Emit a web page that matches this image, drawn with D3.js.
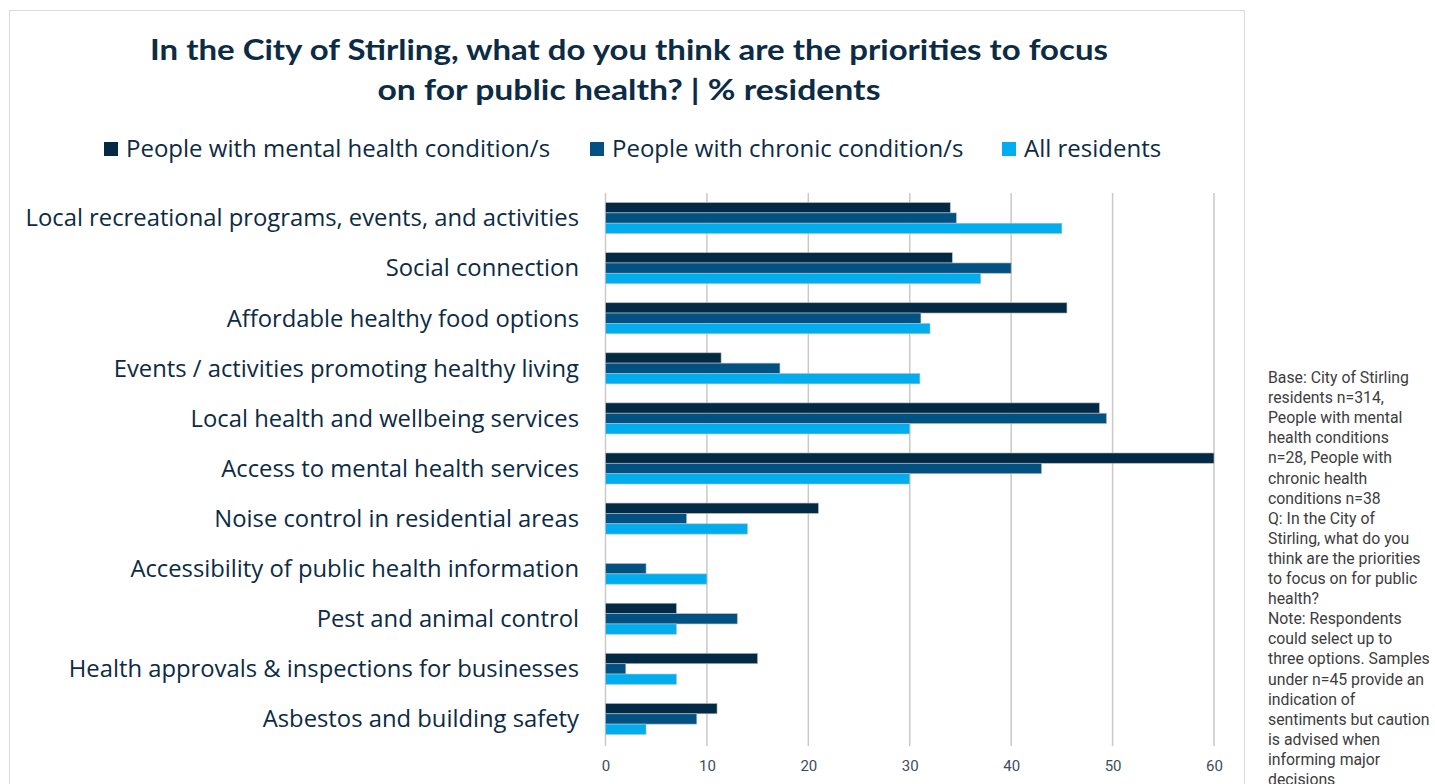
<!DOCTYPE html>
<html><head><meta charset="utf-8">
<script src="https://cdn.jsdelivr.net/npm/d3@7"></script>
<style>
html,body{margin:0;padding:0;background:#fff;overflow:hidden}
svg{display:block}
</style></head>
<body><svg id="c" width="1435" height="784"></svg>
<script>
const categories = [
  "Local recreational programs, events, and activities",
  "Social connection",
  "Affordable healthy food options",
  "Events / activities promoting healthy living",
  "Local health and wellbeing services",
  "Access to mental health services",
  "Noise control in residential areas",
  "Accessibility of public health information",
  "Pest and animal control",
  "Health approvals & inspections for businesses",
  "Asbestos and building safety"
];
const seriesNames = ["People with mental health condition/s", "People with chronic condition/s", "All residents"];
const seriesColors = ["#022a44", "#015283", "#00adef"];
const mentalHealth = [34, 34.2, 45.5, 11.4, 48.7, 60, 21, 0, 7, 15, 11];
const chronic      = [34.6, 40, 31.1, 17.2, 49.4, 43, 8, 4, 13, 2, 9];
const allResidents = [45, 37, 32, 31, 30, 30, 14, 10, 7, 7, 4];
const xTicks = [0, 10, 20, 30, 40, 50, 60];
const titleLines = ["In the City of Stirling, what do you think are the priorities to focus", "on for public health? | % residents"];
const noteLines = ["Base: City of Stirling", "residents n=314,", "People with mental", "health conditions", "n=28, People with", "chronic health", "conditions n=38", "Q: In the City of", "Stirling, what do you", "think are the priorities", "to focus on for public", "health?", "Note: Respondents", "could select up to", "three options. Samples", "under n=45 provide an", "indication of", "sentiments but caution", "is advised when", "informing major", "decisions"];

const svg = d3.select("#c");
const seriesData = [mentalHealth, chronic, allResidents];

// chart box
svg.append("rect").attr("x", 9.5).attr("y", 10.5).attr("width", 1235).attr("height", 800)
  .attr("fill", "#fff").attr("stroke", "#d9d9d9").attr("stroke-width", 1);

// title
const titleWidths = [958, 503];
svg.append("g").selectAll("text").data(titleLines).join("text")
  .attr("x", 629).attr("y", (d, i) => 60 + i * 40)
  .attr("text-anchor", "middle")
  .attr("font-family", "Lato, 'Open Sans', sans-serif").attr("font-weight", 700)
  .attr("font-size", 29).attr("fill", "#0c2b45")
  .attr("textLength", (d, i) => titleWidths[i]).attr("lengthAdjust", "spacingAndGlyphs")
  .text(d => d);

// legend
const legendX = [104, 590, 1002];
const lg = svg.append("g").selectAll("g").data(seriesNames).join("g")
  .attr("transform", (d, i) => `translate(${legendX[i]},142)`);
lg.append("rect").attr("width", 14).attr("height", 14).attr("fill", (d, i) => seriesColors[i]);
lg.append("text").attr("x", 22).attr("y", 15)
  .attr("font-family", "'Open Sans', sans-serif").attr("font-size", 24).attr("fill", "#0c2b45")
  .text(d => d);

// scales
const x = d3.scaleLinear().domain([0, 60]).range([605.5, 1214]);
const y0 = d3.scaleBand().domain(categories).range([193, 744]).paddingInner(0.38).paddingOuter(0.19);
const y1 = d3.scaleBand().domain(d3.range(3)).range([0, y0.bandwidth()]);

// gridlines
svg.append("g").selectAll("line").data(xTicks).join("line")
  .attr("x1", d => x(d)).attr("x2", d => x(d)).attr("y1", 193).attr("y2", 746)
  .attr("stroke", "#c9c9c9").attr("stroke-width", 1.5);

// bars
const groups = svg.append("g").selectAll("g").data(categories).join("g")
  .attr("transform", d => `translate(0,${y0(d)})`);
groups.selectAll("rect").data((d, ci) => seriesData.map((s, si) => ({ si, v: s[ci] })))
  .join("rect")
  .attr("x", x(0)).attr("y", d => y1(d.si))
  .attr("width", d => Math.max(0, x(d.v) - x(0))).attr("height", y1.bandwidth())
  .attr("fill", d => seriesColors[d.si])
  .attr("stroke", d => d.v > 0 ? "rgba(190,190,190,0.8)" : "none").attr("stroke-width", 0.75);

// category labels
svg.append("g").selectAll("text").data(categories).join("text")
  .attr("x", 579).attr("y", d => y0(d) + y0.bandwidth() / 2)
  .attr("dy", "0.35em").attr("text-anchor", "end")
  .attr("font-family", "'Open Sans', sans-serif").attr("font-size", 23.8).attr("fill", "#0c2b45")
  .text(d => d);

// x axis labels
const xAxis = d3.axisBottom(x).tickValues(xTicks).tickSize(0).tickPadding(0);
const ax = svg.append("g").attr("transform", "translate(0,760)").call(xAxis);
ax.select(".domain").remove();
ax.selectAll("text").attr("font-family", "Roboto, sans-serif").attr("font-size", 15).attr("fill", "#3b4d63");

// side note
svg.append("g").selectAll("text").data(noteLines).join("text")
  .attr("x", 1268).attr("y", (d, i) => 383 + i * 20.1)
  .attr("font-family", "Roboto, sans-serif").attr("font-size", 15.8).attr("fill", "#3d3d3d")
  .text(d => d);
</script>
</body></html>
